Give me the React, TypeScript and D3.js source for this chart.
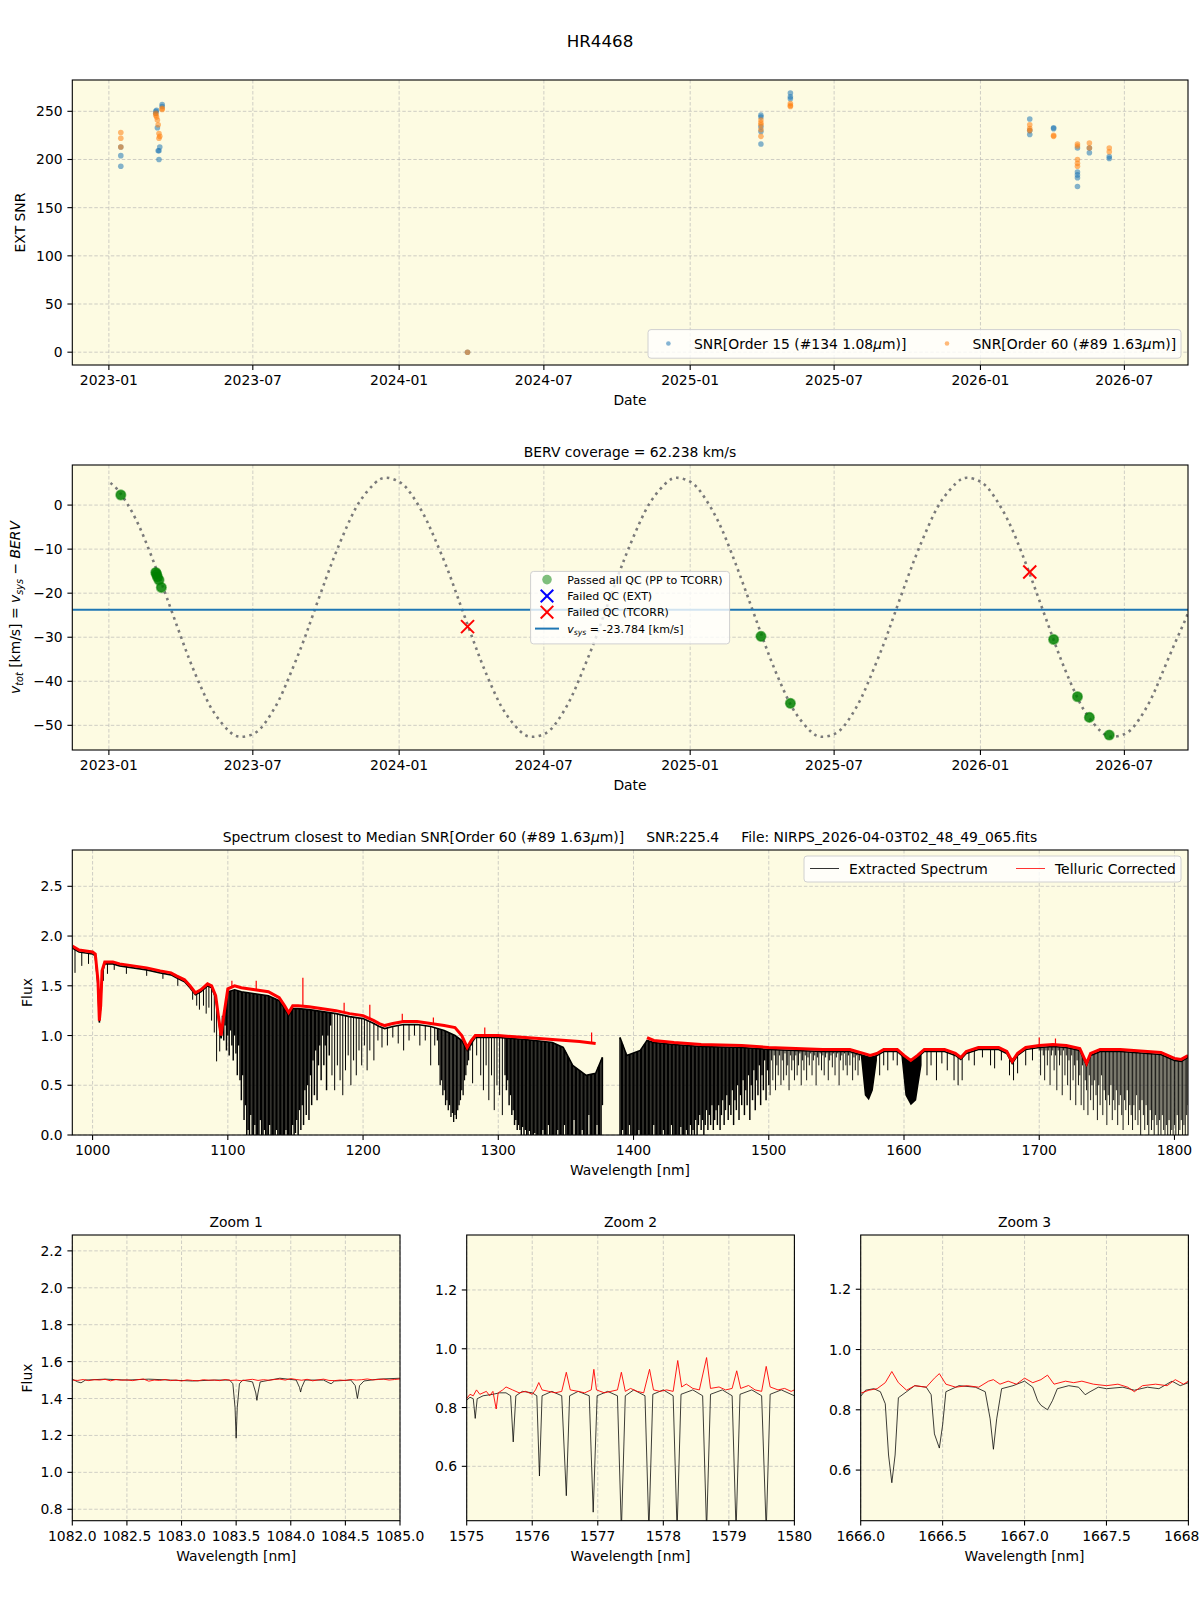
import React from 'react';
import * as d3 from 'd3';

const FONT = 'DejaVu Sans, sans-serif';
const BG = '#fdfbe2';
const C_BLUE = '#1f77b4';
const C_ORANGE = '#ff7f0e';

// ---- SNR per observation ----
const snrDates = [
  '2023-01-16', '2023-01-16', '2023-01-16',
  '2023-03-01', '2023-03-01', '2023-03-02', '2023-03-03', '2023-03-04', '2023-03-05', '2023-03-05', '2023-03-06', '2023-03-09', '2023-03-09',
  '2024-03-27',
  '2025-03-31', '2025-03-31', '2025-03-31', '2025-03-31', '2025-03-31',
  '2025-05-07', '2025-05-07', '2025-05-07',
  '2026-03-04', '2026-03-04', '2026-03-04',
  '2026-04-03', '2026-04-03',
  '2026-05-03', '2026-05-03', '2026-05-03', '2026-05-03', '2026-05-03',
  '2026-05-18', '2026-05-18',
  '2026-06-12', '2026-06-12',
];
const snr15 = [
  193, 204, 213,
  250, 248, 251, 233, 209, 209, 200, 213, 257, 255,
  0,
  246, 244, 234, 229, 216,
  269, 265, 263,
  242, 230, 226,
  232, 233,
  212, 187, 184, 181, 172,
  212, 207,
  201, 203,
];
const snr60 = [
  222, 228, 213,
  248, 246, 244, 241, 236, 227, 222, 224, 253, 252,
  0,
  241, 238, 236, 231, 224,
  258, 255, 256,
  236, 232, 230,
  225, 224,
  216, 214, 200, 196, 193,
  217, 212,
  212, 208,
];

// ---- BERV ----
const passDates = ['2023-01-16', '2023-03-01', '2023-03-02', '2023-03-03', '2023-03-05', '2023-03-08', '2025-03-31', '2025-05-07', '2026-04-03', '2026-05-03', '2026-05-18', '2026-06-12'];
const passVtot = [2.3, -15.3, -15.7, -16.3, -17.0, -18.7, -29.8, -45.0, -30.5, -43.5, -48.2, -52.2];
const failTcorrDates = ['2024-03-27', '2026-03-04'];
const failTcorrVtot = [-27.6, -15.2];
const vsys = -23.784;

const bervCurveDates = [
  '2023-01-03', '2023-01-15', '2023-02-01', '2023-02-15', '2023-03-01', '2023-03-15', '2023-04-01', '2023-04-15', '2023-05-01', '2023-05-15', '2023-06-01', '2023-06-15',
  '2023-07-01', '2023-07-15', '2023-08-01', '2023-08-15', '2023-09-01', '2023-09-15', '2023-10-01', '2023-10-15', '2023-11-01', '2023-11-15', '2023-12-01', '2023-12-15',
  '2024-01-01', '2024-01-15', '2024-02-01', '2024-02-15', '2024-03-01', '2024-03-15', '2024-04-01', '2024-04-15', '2024-05-01', '2024-05-15', '2024-06-01', '2024-06-15',
  '2024-07-01', '2024-07-15', '2024-08-01', '2024-08-15', '2024-09-01', '2024-09-15', '2024-10-01', '2024-10-15', '2024-11-01', '2024-11-15', '2024-12-01', '2024-12-15',
  '2025-01-01', '2025-01-15', '2025-02-01', '2025-02-15', '2025-03-01', '2025-03-15', '2025-04-01', '2025-04-15', '2025-05-01', '2025-05-15', '2025-06-01', '2025-06-15',
  '2025-07-01', '2025-07-15', '2025-08-01', '2025-08-15', '2025-09-01', '2025-09-15', '2025-10-01', '2025-10-15', '2025-11-01', '2025-11-15', '2025-12-01', '2025-12-15',
  '2026-01-01', '2026-01-15', '2026-02-01', '2026-02-15', '2026-03-01', '2026-03-15', '2026-04-01', '2026-04-15', '2026-05-01', '2026-05-15', '2026-06-01', '2026-06-15',
  '2026-07-01', '2026-07-15', '2026-08-01', '2026-08-15', '2026-09-01', '2026-09-15', '2026-09-19',
];
const bervCurveValues = [
  5.0, 2.8, -2.2, -7.7, -14.2, -21.1, -29.6, -36.3, -43.0, -47.6, -51.3, -52.6,
  -52.0, -49.8, -44.9, -39.3, -31.7, -24.7, -16.7, -10.1, -3.0, 1.5, 4.9, 6.2,
  5.3, 2.8, -2.2, -7.7, -14.2, -21.1, -29.6, -36.3, -43.0, -47.6, -51.3, -52.6,
  -52.0, -49.8, -44.9, -39.3, -31.7, -24.7, -16.7, -10.1, -3.0, 1.5, 4.9, 6.2,
  5.3, 2.8, -2.2, -7.7, -14.2, -21.1, -29.6, -36.3, -43.0, -47.6, -51.3, -52.6,
  -52.0, -49.8, -44.9, -39.3, -31.7, -24.7, -16.7, -10.1, -3.0, 1.5, 4.9, 6.2,
  5.3, 2.8, -2.2, -7.7, -14.2, -21.1, -29.6, -36.3, -43.0, -47.6, -51.3, -52.6,
  -52.0, -49.8, -44.9, -39.3, -32.0, -26.3, -24.5,
];

const dateTicks = ['2023-01-01', '2023-07-01', '2024-01-01', '2024-07-01', '2025-01-01', '2025-07-01', '2026-01-01', '2026-07-01'];

// ---- full spectrum ----
// extracted spectrum, upper envelope (two chunks, gap between)
const extContA = [
  [985, 1.88], [990, 1.84], [995, 1.83], [1000, 1.82], [1002, 1.8], [1004, 1.5], [1005, 1.13], [1006, 1.3], [1007, 1.62], [1009, 1.72],
  [1015, 1.72], [1020, 1.7], [1030, 1.68], [1040, 1.66], [1050, 1.63], [1058, 1.61], [1062, 1.58], [1068, 1.54], [1072, 1.48], [1076, 1.41],
  [1080, 1.44], [1085, 1.5], [1088, 1.48], [1091, 1.38], [1093, 1.18], [1095, 0.97], [1097, 1.18], [1100, 1.44], [1105, 1.46], [1110, 1.44],
  [1120, 1.42], [1130, 1.4], [1138, 1.35], [1142, 1.27], [1145, 1.2], [1148, 1.27], [1152, 1.27], [1160, 1.26], [1170, 1.24], [1180, 1.22],
  [1190, 1.19], [1200, 1.17], [1208, 1.12], [1212, 1.09], [1216, 1.07], [1222, 1.09], [1230, 1.11], [1240, 1.11], [1250, 1.09], [1260, 1.05],
  [1268, 1.0], [1273, 0.95], [1277, 0.85], [1280, 0.92], [1283, 0.98], [1290, 0.98], [1300, 0.98], [1320, 0.96], [1340, 0.93], [1348, 0.88],
  [1355, 0.7], [1365, 0.6], [1372, 0.62], [1377, 0.78],
];
const extContB = [
  [1390, 0.98], [1395, 0.8], [1405, 0.85], [1410, 0.95], [1415, 0.93], [1430, 0.91], [1450, 0.89], [1480, 0.88], [1500, 0.86], [1520, 0.85],
  [1540, 0.84], [1560, 0.84], [1570, 0.8], [1575, 0.78], [1580, 0.8], [1585, 0.84], [1595, 0.84], [1600, 0.78], [1605, 0.73], [1610, 0.78],
  [1615, 0.84], [1630, 0.84], [1638, 0.8], [1642, 0.76], [1646, 0.82], [1655, 0.86], [1670, 0.86], [1676, 0.82], [1680, 0.72], [1684, 0.8],
  [1690, 0.86], [1700, 0.88], [1710, 0.89], [1720, 0.88], [1730, 0.85], [1735, 0.7], [1738, 0.8], [1745, 0.84], [1760, 0.84], [1780, 0.82],
  [1790, 0.81], [1800, 0.75], [1805, 0.74], [1810, 0.78],
];
// broad CO2 band bottoms
const extBands = [
  [[1568, 0.8], [1571, 0.4], [1574, 0.35], [1577, 0.45], [1580, 0.75]],
  [[1598, 0.8], [1601, 0.4], [1605, 0.3], [1609, 0.35], [1613, 0.7]],
];
// telluric forests: line minima sampled every 1 nm from the start wavelength
const forestStart = [1096, 1255, 1305, 1390, 1500, 1700];
const forestDepths = [
  [1.2, 0.95, 1.1, 0.85, 1.0, 0.8, 1.05, 0.9, 0.75, 1.0, 0.82, 0.6, 0.9, 0.55, 0.35, 0.6, 0.15, 0.3, 0.0, 0.05,
    0.0, 0.2, 0.0, 0.0, 0.1, 0.0, 0.0, 0.0, 0.15, 0.0, 0.0, 0.05, 0.0, 0.0, 0.0, 0.1, 0.0, 0.0, 0.0, 0.0,
    0.05, 0.0, 0.0, 0.0, 0.0, 0.0, 0.0, 0.05, 0.0, 0.0, 0.0, 0.0, 0.1, 0.0, 0.02, 0.15, 0.0, 0.25, 0.05, 0.3,
    0.1, 0.45, 0.2, 0.5, 0.15, 0.6, 0.3, 0.75, 0.4, 0.85, 0.35, 0.7, 0.9, 0.55, 1.0, 0.7, 0.9, 0.45, 1.0, 0.8, 1.1],
  [0.95, 0.7, 0.5, 0.55, 0.4, 0.45, 0.3, 0.35, 0.25, 0.3, 0.18, 0.22, 0.13, 0.2, 0.16, 0.25, 0.3, 0.35, 0.45, 0.4,
    0.55, 0.6, 0.7, 0.75, 0.85, 0.9],
  [0.6, 0.45, 0.55, 0.3, 0.4, 0.2, 0.25, 0.1, 0.15, 0.05, 0.1, 0.05, 0.0, 0.08, 0.0, 0.05, 0.0, 0.0, 0.04, 0.0,
    0.0, 0.0, 0.02, 0.0, 0.0, 0.0, 0.0, 0.0, 0.05, 0.0, 0.0, 0.0, 0.1, 0.0, 0.0, 0.0, 0.0, 0.0, 0.0, 0.05,
    0.0, 0.0, 0.0, 0.0, 0.1, 0.0, 0.0, 0.0, 0.0, 0.0, 0.0, 0.15, 0.0, 0.0, 0.0, 0.0, 0.0, 0.05, 0.0, 0.0,
    0.0, 0.0, 0.2, 0.0, 0.0, 0.0, 0.0, 0.0, 0.1, 0.0, 0.0, 0.0, 0.3],
  [0.0, 0.0, 0.05, 0.0, 0.0, 0.0, 0.0, 0.1, 0.0, 0.0, 0.0, 0.0, 0.0, 0.0, 0.05, 0.0, 0.0, 0.0, 0.0, 0.0,
    0.0, 0.0, 0.0, 0.0, 0.0, 0.1, 0.0, 0.0, 0.0, 0.0, 0.0, 0.0, 0.05, 0.0, 0.0, 0.0, 0.0, 0.0, 0.1, 0.0,
    0.0, 0.0, 0.0, 0.0, 0.0, 0.08, 0.0, 0.0, 0.0, 0.05, 0.0, 0.0, 0.1, 0.0, 0.05, 0.0, 0.15, 0.0, 0.1, 0.2,
    0.05, 0.15, 0.0, 0.1, 0.25, 0.05, 0.2, 0.1, 0.3, 0.05, 0.15, 0.25, 0.1, 0.3, 0.05, 0.2, 0.35, 0.1, 0.25, 0.4,
    0.15, 0.3, 0.2, 0.45, 0.1, 0.35, 0.25, 0.5, 0.15, 0.4, 0.3, 0.55, 0.2, 0.45, 0.3, 0.6, 0.15, 0.5, 0.35, 0.65,
    0.25, 0.55, 0.4, 0.7, 0.3, 0.6, 0.45, 0.75, 0.35, 0.65, 0.5],
  [0.65, 0.4, 0.75, 0.55, 0.8, 0.45, 0.7, 0.6, 0.8, 0.5, 0.75, 0.55, 0.82, 0.6, 0.7, 0.45, 0.8, 0.65, 0.75, 0.55,
    0.8, 0.6, 0.7, 0.82, 0.5, 0.75, 0.65, 0.8, 0.55, 0.78, 0.7, 0.82, 0.6, 0.75, 0.8, 0.5, 0.78, 0.7, 0.82, 0.65,
    0.8, 0.6, 0.78, 0.82, 0.55, 0.75, 0.8, 0.68, 0.82, 0.6, 0.78, 0.82, 0.5, 0.75, 0.8, 0.65, 0.82, 0.7, 0.6, 0.8,
    0.7, 0.82, 0.55, 0.78, 0.65, 0.8, 0.6, 0.75],
  [0.85, 0.6, 0.85, 0.8, 0.55, 0.85, 0.7, 0.85, 0.5, 0.8, 0.85, 0.65, 0.8, 0.45, 0.85, 0.7, 0.8, 0.4, 0.85, 0.6,
    0.8, 0.5, 0.75, 0.35, 0.8, 0.55, 0.7, 0.3, 0.75, 0.5, 0.6, 0.3, 0.7, 0.25, 0.55, 0.45, 0.2, 0.6, 0.35, 0.5,
    0.25, 0.55, 0.4, 0.15, 0.5, 0.3, 0.6, 0.2, 0.45, 0.35, 0.1, 0.4, 0.3, 0.5, 0.15, 0.35, 0.25, 0.45, 0.1, 0.3,
    0.4, 0.2, 0.05, 0.35, 0.25, 0.45, 0.1, 0.3, 0.2, 0.05, 0.3, 0.15, 0.4, 0.1, 0.25, 0.0, 0.35, 0.2, 0.05, 0.3,
    0.1, 0.0, 0.25, 0.05, 0.15, 0.0, 0.2, 0.1, 0.0, 0.15, 0.0, 0.2, 0.05, 0.0, 0.1, 0.0, 0.15, 0.0, 0.05, 0.0,
    0.1, 0.0, 0.2, 0.0, 0.05, 0.15, 0.0, 0.1, 0.0, 0.2, 0.3],
];
const forestStroke = [1.45, 1.3, 1.45, 1.45, 0.9, 0.9];
// isolated absorption lines: [nm, minimum flux]
const extLines = [
  [987, 1.63], [992, 1.7], [997, 1.72], [1003, 1.6], [1008, 1.55], [1011, 1.62], [1016, 1.66], [1025, 1.62], [1040, 1.6], [1052, 1.57], [1063, 1.5],
  [1074, 1.36], [1077, 1.3], [1079, 1.26], [1082, 1.3], [1084, 1.22], [1086, 1.28], [1088, 1.15], [1090, 1.03], [1091.7, 0.74], [1094, 0.84],
  [1177, 0.6], [1179, 0.45], [1181, 0.7], [1183, 0.55], [1185, 0.4], [1187, 0.65], [1189, 0.8], [1191, 0.5], [1193, 0.75], [1195, 0.6], [1197, 0.85],
  [1199, 0.7], [1201, 0.9], [1203, 0.65], [1205, 0.85], [1208, 0.75], [1211, 0.95], [1214, 0.88], [1218, 0.9], [1222, 0.98], [1226, 0.92],
  [1230, 0.85], [1234, 0.95], [1238, 1.0], [1242, 0.9], [1246, 0.95], [1250, 0.7], [1253, 0.9],
  [1281, 0.52], [1284, 0.8], [1287, 0.6], [1289, 0.45], [1291, 0.7], [1293, 0.35], [1295, 0.6], [1297, 0.25], [1299, 0.5], [1301, 0.4], [1303, 0.2],
  [1582, 0.6], [1585, 0.7], [1588, 0.65], [1592, 0.75], [1595, 0.7],
  [1617, 0.6], [1620, 0.7], [1624, 0.55], [1628, 0.72], [1632, 0.65], [1637, 0.55], [1640, 0.5], [1643, 0.55], [1648, 0.75], [1652, 0.7], [1658, 0.78],
  [1664, 0.7], [1667, 0.67], [1672, 0.75], [1678, 0.6], [1681, 0.55], [1684, 0.62], [1690, 0.7], [1695, 0.75],
];
// telluric corrected spectrum (two chunks)
const tcorrA = [
  [985, 1.9], [990, 1.86], [995, 1.85], [1000, 1.84], [1002, 1.82], [1004, 1.55], [1005, 1.15], [1006, 1.3], [1007, 1.65], [1009, 1.74],
  [1015, 1.74], [1020, 1.72], [1030, 1.7], [1040, 1.68], [1050, 1.65], [1058, 1.63], [1062, 1.6], [1068, 1.56], [1072, 1.5], [1076, 1.43],
  [1080, 1.46], [1085, 1.52], [1088, 1.5], [1091, 1.4], [1093, 1.2], [1095, 1.0], [1097, 1.2], [1100, 1.47], [1105, 1.5], [1110, 1.48],
  [1120, 1.46], [1130, 1.44], [1138, 1.38], [1142, 1.3], [1145, 1.23], [1148, 1.3], [1152, 1.3], [1160, 1.29], [1170, 1.27], [1180, 1.25],
  [1190, 1.22], [1200, 1.2], [1208, 1.15], [1212, 1.12], [1216, 1.1], [1222, 1.12], [1230, 1.14], [1240, 1.14], [1250, 1.12], [1260, 1.1],
  [1268, 1.08], [1273, 1.0], [1277, 0.88], [1280, 0.95], [1283, 1.0], [1290, 1.0], [1300, 1.0], [1320, 0.98], [1340, 0.96], [1360, 0.94], [1372, 0.92],
];
const tcorrB = [
  [1410, 0.98], [1415, 0.95], [1430, 0.93], [1450, 0.91], [1480, 0.9], [1500, 0.88], [1520, 0.87], [1540, 0.86], [1560, 0.86], [1570, 0.82],
  [1575, 0.8], [1580, 0.82], [1585, 0.86], [1595, 0.86], [1600, 0.8], [1605, 0.75], [1610, 0.8], [1615, 0.86], [1630, 0.86], [1638, 0.82],
  [1642, 0.78], [1646, 0.84], [1655, 0.88], [1670, 0.88], [1676, 0.84], [1680, 0.74], [1684, 0.82], [1690, 0.88], [1700, 0.9], [1710, 0.91],
  [1720, 0.9], [1730, 0.87], [1735, 0.72], [1738, 0.82], [1745, 0.86], [1760, 0.86], [1780, 0.84], [1790, 0.83], [1800, 0.77], [1805, 0.76], [1810, 0.8],
];
// upward residual spikes in the corrected spectrum: [nm, peak flux]
const tcorrSpikes = [[1103, 1.55], [1121, 1.55], [1155.5, 1.58], [1186, 1.33], [1205, 1.31], [1229, 1.22], [1252, 1.18], [1290, 1.08], [1369, 1.03], [1700, 0.98], [1712, 0.97]];

// ---- zoom windows ----
const z1Ext = [
  [1082.0, 1.505], [1082.05, 1.49], [1082.08, 1.485], [1082.12, 1.5], [1082.3, 1.505], [1082.5, 1.5], [1082.7, 1.505], [1082.9, 1.5], [1083.1, 1.495],
  [1083.3, 1.5], [1083.44, 1.5], [1083.47, 1.48], [1083.49, 1.35], [1083.5, 1.185], [1083.51, 1.35], [1083.53, 1.48], [1083.56, 1.5], [1083.65, 1.49],
  [1083.68, 1.43], [1083.69, 1.39], [1083.7, 1.43], [1083.72, 1.49], [1083.9, 1.51], [1084.05, 1.5], [1084.08, 1.46], [1084.09, 1.435], [1084.1, 1.46],
  [1084.13, 1.5], [1084.3, 1.5], [1084.35, 1.485], [1084.37, 1.48], [1084.4, 1.495], [1084.55, 1.5], [1084.59, 1.47], [1084.61, 1.4], [1084.63, 1.47],
  [1084.67, 1.495], [1084.8, 1.505], [1085.0, 1.51],
];
const z1Tcorr = [
  [1082.0, 1.5], [1082.05, 1.498], [1082.1, 1.503], [1082.15, 1.497], [1082.2, 1.502], [1082.25, 1.5], [1082.3, 1.504], [1082.35, 1.496], [1082.4, 1.503],
  [1082.45, 1.499], [1082.5, 1.501], [1082.55, 1.497], [1082.6, 1.502], [1082.65, 1.506], [1082.7, 1.494], [1082.75, 1.5], [1082.8, 1.498], [1082.85, 1.503],
  [1082.9, 1.497], [1082.95, 1.5], [1083.0, 1.495], [1083.05, 1.501], [1083.1, 1.498], [1083.15, 1.496], [1083.2, 1.502], [1083.25, 1.499], [1083.3, 1.5],
  [1083.35, 1.497], [1083.4, 1.503], [1083.45, 1.498], [1083.5, 1.5], [1083.55, 1.496], [1083.6, 1.501], [1083.65, 1.504], [1083.7, 1.498], [1083.75, 1.502],
  [1083.8, 1.499], [1083.85, 1.503], [1083.9, 1.505], [1083.95, 1.5], [1084.0, 1.508], [1084.05, 1.503], [1084.1, 1.499], [1084.15, 1.504], [1084.2, 1.496],
  [1084.25, 1.501], [1084.3, 1.505], [1084.35, 1.498], [1084.4, 1.497], [1084.45, 1.5], [1084.5, 1.498], [1084.55, 1.503], [1084.6, 1.5], [1084.65, 1.502],
  [1084.7, 1.506], [1084.75, 1.501], [1084.8, 1.503], [1084.85, 1.505], [1084.9, 1.5], [1084.95, 1.503], [1085.0, 1.506],
];
const z2Ext = [
  [1575.0, 0.825], [1575.05, 0.835], [1575.1, 0.83], [1575.13, 0.763], [1575.16, 0.83], [1575.25, 0.84], [1575.4, 0.845], [1575.5, 0.85], [1575.6, 0.85],
  [1575.67, 0.84], [1575.71, 0.683], [1575.75, 0.84], [1575.85, 0.855], [1576.0, 0.85], [1576.07, 0.84], [1576.11, 0.567], [1576.15, 0.84], [1576.3, 0.855],
  [1576.45, 0.84], [1576.52, 0.5], [1576.57, 0.84], [1576.7, 0.855], [1576.87, 0.84], [1576.93, 0.444], [1576.99, 0.84], [1577.15, 0.855], [1577.3, 0.84],
  [1577.36, 0.38], [1577.42, 0.84], [1577.55, 0.86], [1577.72, 0.84], [1577.78, 0.38], [1577.84, 0.845], [1578.0, 0.86], [1578.15, 0.84], [1578.21, 0.38],
  [1578.27, 0.845], [1578.45, 0.86], [1578.6, 0.84], [1578.66, 0.38], [1578.72, 0.845], [1578.9, 0.86], [1579.05, 0.84], [1579.11, 0.38], [1579.17, 0.845],
  [1579.35, 0.86], [1579.5, 0.84], [1579.57, 0.38], [1579.63, 0.845], [1579.8, 0.86], [1580.0, 0.84],
];
const z2Tcorr = [
  [1575.0, 0.83], [1575.05, 0.845], [1575.1, 0.84], [1575.15, 0.86], [1575.2, 0.845], [1575.3, 0.855], [1575.35, 0.84], [1575.4, 0.855], [1575.45, 0.795],
  [1575.48, 0.85], [1575.55, 0.86], [1575.6, 0.87], [1575.7, 0.86], [1575.8, 0.85], [1575.9, 0.855], [1576.0, 0.845], [1576.05, 0.86], [1576.1, 0.885],
  [1576.15, 0.86], [1576.25, 0.855], [1576.35, 0.85], [1576.45, 0.855], [1576.52, 0.92], [1576.58, 0.86], [1576.7, 0.855], [1576.8, 0.85], [1576.9, 0.86],
  [1576.94, 0.93], [1576.98, 0.86], [1577.1, 0.85], [1577.2, 0.855], [1577.3, 0.86], [1577.36, 0.92], [1577.42, 0.855], [1577.5, 0.865], [1577.6, 0.855],
  [1577.7, 0.85], [1577.79, 0.93], [1577.85, 0.86], [1577.95, 0.855], [1578.05, 0.86], [1578.15, 0.855], [1578.22, 0.96], [1578.28, 0.87], [1578.35, 0.88],
  [1578.45, 0.865], [1578.55, 0.86], [1578.66, 0.97], [1578.72, 0.865], [1578.85, 0.87], [1578.95, 0.86], [1579.05, 0.865], [1579.12, 0.925], [1579.18, 0.865],
  [1579.3, 0.875], [1579.4, 0.86], [1579.5, 0.855], [1579.57, 0.94], [1579.63, 0.87], [1579.75, 0.86], [1579.85, 0.865], [1579.95, 0.855], [1580.0, 0.86],
];
const z3Ext = [
  [1666.0, 0.845], [1666.03, 0.865], [1666.08, 0.87], [1666.12, 0.86], [1666.15, 0.82], [1666.17, 0.65], [1666.19, 0.558], [1666.21, 0.65], [1666.23, 0.84],
  [1666.28, 0.86], [1666.33, 0.88], [1666.4, 0.875], [1666.43, 0.85], [1666.45, 0.72], [1666.48, 0.673], [1666.5, 0.75], [1666.52, 0.86], [1666.6, 0.88],
  [1666.7, 0.875], [1666.76, 0.86], [1666.79, 0.77], [1666.81, 0.669], [1666.83, 0.77], [1666.86, 0.87], [1666.93, 0.88], [1667.0, 0.895], [1667.05, 0.875],
  [1667.08, 0.83], [1667.1, 0.815], [1667.14, 0.8], [1667.17, 0.83], [1667.2, 0.87], [1667.27, 0.88], [1667.33, 0.875], [1667.37, 0.85], [1667.4, 0.86],
  [1667.45, 0.875], [1667.5, 0.87], [1667.6, 0.875], [1667.67, 0.865], [1667.75, 0.875], [1667.82, 0.87], [1667.9, 0.895], [1667.95, 0.88], [1668.0, 0.89],
];
const z3Tcorr = [
  [1666.0, 0.855], [1666.05, 0.865], [1666.1, 0.87], [1666.15, 0.89], [1666.19, 0.927], [1666.23, 0.89], [1666.28, 0.865], [1666.33, 0.88], [1666.4, 0.875],
  [1666.45, 0.905], [1666.48, 0.92], [1666.52, 0.885], [1666.58, 0.875], [1666.65, 0.88], [1666.72, 0.875], [1666.78, 0.895], [1666.81, 0.9], [1666.85, 0.885],
  [1666.9, 0.895], [1666.95, 0.885], [1667.0, 0.905], [1667.05, 0.89], [1667.1, 0.9], [1667.14, 0.915], [1667.18, 0.885], [1667.25, 0.895], [1667.3, 0.89],
  [1667.35, 0.895], [1667.42, 0.885], [1667.5, 0.88], [1667.57, 0.885], [1667.63, 0.875], [1667.67, 0.86], [1667.72, 0.88], [1667.8, 0.885], [1667.87, 0.88],
  [1667.92, 0.9], [1667.97, 0.885], [1668.0, 0.895],
];

const parse = d3.utcParse('%Y-%m-%d');

function Axes({ id, x, y, xTicks, yTicks, xFmt, yFmt, children }: any) {
  const [x0, x1] = x.range();
  const [yb, yt] = y.range();
  return (
    <g>
      <rect x={x0} y={yt} width={x1 - x0} height={yb - yt} fill={BG} />
      <defs>
        <clipPath id={id}>
          <rect x={x0} y={yt} width={x1 - x0} height={yb - yt} />
        </clipPath>
      </defs>
      <g stroke="#b0b0b0" strokeOpacity={0.75} strokeWidth={0.8} strokeDasharray="3.5,2">
        {xTicks.map((t: any, i: number) => <line key={'gx' + i} x1={x(t)} x2={x(t)} y1={yt} y2={yb} />)}
        {yTicks.map((t: any, i: number) => <line key={'gy' + i} x1={x0} x2={x1} y1={y(t)} y2={y(t)} />)}
      </g>
      <g clipPath={`url(#${id})`}>{children}</g>
      <rect x={x0} y={yt} width={x1 - x0} height={yb - yt} fill="none" stroke="#000" strokeWidth={1.1} />
      <g stroke="#000" strokeWidth={1.1}>
        {xTicks.map((t: any, i: number) => <line key={'tx' + i} x1={x(t)} x2={x(t)} y1={yb} y2={yb + 4.9} />)}
        {yTicks.map((t: any, i: number) => <line key={'ty' + i} x1={x0 - 4.9} x2={x0} y1={y(t)} y2={y(t)} />)}
      </g>
      <g fontSize={13.9} fill="#000">
        {xTicks.map((t: any, i: number) => (
          <text key={'lx' + i} x={x(t)} y={yb + 20.3} textAnchor="middle">{xFmt(t)}</text>
        ))}
        {yTicks.map((t: any, i: number) => (
          <text key={'ly' + i} x={x0 - 9.7} y={y(t)} dy="0.36em" textAnchor="end">{yFmt(t)}</text>
        ))}
      </g>
    </g>
  );
}

const Cross = ({ cx, cy, r, color }: any) => (
  <g stroke={color} strokeWidth={2}>
    <line x1={cx - r} y1={cy - r} x2={cx + r} y2={cy + r} />
    <line x1={cx - r} y1={cy + r} x2={cx + r} y2={cy - r} />
  </g>
);

function ZoomPanel({ id, title, xd, yd, x0, xTicks, yTicks, xFmt, ext, tcorr, ylabel }: any) {
  const x = d3.scaleLinear().domain(xd).range([x0, x0 + 327.7]);
  const y = d3.scaleLinear().domain(yd).range([1520.7, 1235]);
  const line = d3.line<number[]>().x(d => x(d[0])).y(d => y(d[1]));
  const cx = x0 + 327.7 / 2;
  return (
    <g>
      <Axes id={id} x={x} y={y} xTicks={xTicks} yTicks={yTicks} xFmt={xFmt} yFmt={d3.format('.1f')}>
        <path d={line(ext) || ''} fill="none" stroke="#000" strokeWidth={0.9} strokeOpacity={0.85} />
        <path d={line(tcorr) || ''} fill="none" stroke="red" strokeWidth={0.9} />
      </Axes>
      <text x={cx} y={1227} textAnchor="middle" fontSize={13.9}>{title}</text>
      <text x={cx} y={1561} textAnchor="middle" fontSize={13.9}>Wavelength [nm]</text>
      {ylabel && (
        <text transform="translate(32,1378) rotate(-90)" textAnchor="middle" fontSize={13.9}>Flux</text>
      )}
    </g>
  );
}

export default function App() {
  // shared time axis
  const xT = d3.scaleUtc().domain([parse('2022-11-16'), parse('2026-09-19')]).range([72.3, 1188]);
  const tTicks = dateTicks.map(d => parse(d));
  const tFmt = d3.utcFormat('%Y-%m');

  // panel 1
  const ySnr = d3.scaleLinear().domain([-13.3, 282.5]).range([365, 80]);

  // panel 2
  const yB = d3.scaleLinear().domain([-55.6, 9.1]).range([750, 465]);
  const bervLine = d3.line<number>()
    .x((_, i) => xT(parse(bervCurveDates[i])))
    .y(d => yB(d))
    .curve(d3.curveNatural);

  // panel 3
  const xS = d3.scaleLinear().domain([985, 1810]).range([72.3, 1188]);
  const yS = d3.scaleLinear().domain([0, 2.865]).range([1135, 850]);
  const extAll = extContA.concat(extContB);
  const cont = d3.scaleLinear().domain(extAll.map(d => d[0])).range(extAll.map(d => d[1]));
  const tcAll = tcorrA.concat(tcorrB);
  const tcCont = d3.scaleLinear().domain(tcAll.map(d => d[0])).range(tcAll.map(d => d[1]));
  const specLine = d3.line<number[]>().x(d => xS(d[0])).y(d => yS(d[1]));
  const bandArea = d3.area<number[]>().x(d => xS(d[0])).y0(d => yS(d[1])).y1(d => yS(cont(d[0])));

  return (
    <svg width={1200} height={1600} style={{ position: 'absolute', left: 0, top: 0, background: '#fff' }} fontFamily={FONT}>
      <text x={600} y={47} textAnchor="middle" fontSize={16.7}>HR4468</text>

      {/* ---- SNR panel ---- */}
      <Axes id="c1" x={xT} y={ySnr} xTicks={tTicks} yTicks={[0, 50, 100, 150, 200, 250]} xFmt={tFmt} yFmt={d3.format('d')}>
        {snrDates.map((d, i) => (
          <circle key={'b' + i} cx={xT(parse(d))} cy={ySnr(snr15[i])} r={2.8} fill={C_BLUE} fillOpacity={0.55} />
        ))}
        {snrDates.map((d, i) => (
          <circle key={'o' + i} cx={xT(parse(d))} cy={ySnr(snr60[i])} r={2.8} fill={C_ORANGE} fillOpacity={0.55} />
        ))}
      </Axes>
      <text transform="translate(25,222.5) rotate(-90)" textAnchor="middle" fontSize={13.9}>EXT SNR</text>
      <text x={630} y={405} textAnchor="middle" fontSize={13.9}>Date</text>
      <g>
        <rect x={648} y={329.6} width={533} height={28.6} rx={3} fill="#fff" fillOpacity={0.8} stroke="#d0d0d0" />
        <circle cx={668.4} cy={343.5} r={2.3} fill={C_BLUE} fillOpacity={0.55} />
        <text x={694} y={343.5} dy="0.36em" fontSize={13.9}>SNR[Order 15 (#134 1.08<tspan fontStyle="italic">μ</tspan>m)]</text>
        <circle cx={947} cy={343.5} r={2.3} fill={C_ORANGE} fillOpacity={0.55} />
        <text x={972.5} y={343.5} dy="0.36em" fontSize={13.9}>SNR[Order 60 (#89 1.63<tspan fontStyle="italic">μ</tspan>m)]</text>
      </g>

      {/* ---- BERV panel ---- */}
      <Axes id="c2" x={xT} y={yB} xTicks={tTicks} yTicks={[0, -10, -20, -30, -40, -50]} xFmt={tFmt} yFmt={d3.format('d')}>
        <path d={bervLine(bervCurveValues) || ''} fill="none" stroke="#7a7a7a" strokeWidth={2.6} strokeDasharray="2.6,4.2" />
        <line x1={72.3} x2={1188} y1={yB(vsys)} y2={yB(vsys)} stroke={C_BLUE} strokeWidth={2} />
        {passDates.map((d, i) => (
          <circle key={'p' + i} cx={xT(parse(d))} cy={yB(passVtot[i])} r={4.8} fill="green" fillOpacity={0.85} stroke="green" strokeOpacity={0.5} strokeWidth={1.6} />
        ))}
        {failTcorrDates.map((d, i) => (
          <Cross key={'f' + i} cx={xT(parse(d))} cy={yB(failTcorrVtot[i])} r={6.5} color="red" />
        ))}
      </Axes>
      <text x={630} y={456.5} textAnchor="middle" fontSize={13.9}>BERV coverage = 62.238 km/s</text>
      <text x={630} y={790} textAnchor="middle" fontSize={13.9}>Date</text>
      <text transform="translate(20,607.5) rotate(-90)" textAnchor="middle" fontSize={13.9}>
        <tspan fontStyle="italic">v</tspan>
        <tspan fontStyle="italic" fontSize={9.7} dy={3}>tot</tspan>
        <tspan dy={-3}> [km/s] = </tspan>
        <tspan fontStyle="italic">v</tspan>
        <tspan fontStyle="italic" fontSize={9.7} dy={3}>sys</tspan>
        <tspan dy={-3}> − </tspan>
        <tspan fontStyle="italic">BERV</tspan>
      </text>
      <g fontSize={11}>
        <rect x={530.6} y={571.4} width={199} height={72.5} rx={3} fill="#fff" fillOpacity={0.8} stroke="#d0d0d0" />
        <circle cx={547} cy={579.6} r={4.8} fill="green" fillOpacity={0.5} />
        <text x={567.3} y={579.6} dy="0.36em">Passed all QC (PP to TCORR)</text>
        <Cross cx={547} cy={596} r={6.3} color="blue" />
        <text x={567.3} y={596} dy="0.36em">Failed QC (EXT)</text>
        <Cross cx={547} cy={612.2} r={6.3} color="red" />
        <text x={567.3} y={612.2} dy="0.36em">Failed QC (TCORR)</text>
        <line x1={535} x2={559} y1={628.6} y2={628.6} stroke={C_BLUE} strokeWidth={2} />
        <text x={567.3} y={628.6} dy="0.36em">
          <tspan fontStyle="italic">v</tspan>
          <tspan fontStyle="italic" fontSize={7.7} dy={2.5}>sys</tspan>
          <tspan dy={-2.5}> = -23.784 [km/s]</tspan>
        </text>
      </g>

      {/* ---- full spectrum ---- */}
      <Axes id="c3" x={xS} y={yS} xTicks={d3.range(1000, 1801, 100)} yTicks={[0, 0.5, 1, 1.5, 2, 2.5]} xFmt={d3.format('d')} yFmt={d3.format('.1f')}>
        {extBands.map((f, i) => (
          <path key={'fa' + i} d={bandArea(f) || ''} fill="#000" />
        ))}
        {forestDepths.map((depths, k) => depths.map((v, i) => {
          const nm = forestStart[k] + i;
          return <line key={'fl' + k + '_' + i} x1={xS(nm)} x2={xS(nm)} y1={yS(cont(nm))} y2={yS(v)} stroke="#000" strokeWidth={forestStroke[k]} />;
        }))}
        {extLines.map((l, i) => (
          <line key={'el' + i} x1={xS(l[0])} x2={xS(l[0])} y1={yS(cont(l[0]))} y2={yS(l[1])} stroke="#000" strokeWidth={1} />
        ))}
        <path d={specLine(extContA) || ''} fill="none" stroke="#000" strokeWidth={1.6} />
        <path d={specLine(extContB) || ''} fill="none" stroke="#000" strokeWidth={1.6} />
        {tcorrSpikes.map((s, i) => (
          <line key={'ts' + i} x1={xS(s[0])} x2={xS(s[0])} y1={yS(tcCont(s[0]))} y2={yS(s[1])} stroke="red" strokeWidth={1.2} />
        ))}
        <path d={specLine(tcorrA) || ''} fill="none" stroke="red" strokeWidth={3} />
        <path d={specLine(tcorrB) || ''} fill="none" stroke="red" strokeWidth={3} />
      </Axes>
      <text x={630} y={841.5} textAnchor="middle" fontSize={13.9} xmlSpace="preserve">
        {'Spectrum closest to Median SNR[Order 60 (#89 1.63'}
        <tspan fontStyle="italic">μ</tspan>
        {'m)]     SNR:225.4     File: NIRPS_2026-04-03T02_48_49_065.fits'}
      </text>
      <text transform="translate(32,992.5) rotate(-90)" textAnchor="middle" fontSize={13.9}>Flux</text>
      <text x={630} y={1175} textAnchor="middle" fontSize={13.9}>Wavelength [nm]</text>
      <g fontSize={13.9}>
        <rect x={804} y={856} width={377} height={26} rx={3} fill="#fff" fillOpacity={0.8} stroke="#d0d0d0" />
        <line x1={810} x2={839} y1={868.5} y2={868.5} stroke="#000" strokeWidth={1} strokeOpacity={0.8} />
        <text x={849} y={868.5} dy="0.36em">Extracted Spectrum</text>
        <line x1={1016} x2={1045} y1={868.5} y2={868.5} stroke="red" strokeWidth={1} strokeOpacity={0.8} />
        <text x={1055} y={868.5} dy="0.36em">Telluric Corrected</text>
      </g>

      {/* ---- zooms ---- */}
      <ZoomPanel id="z1" title="Zoom 1" xd={[1082, 1085]} yd={[0.738, 2.286]} x0={72.3}
        xTicks={[1082, 1082.5, 1083, 1083.5, 1084, 1084.5, 1085]} yTicks={[0.8, 1.0, 1.2, 1.4, 1.6, 1.8, 2.0, 2.2]}
        xFmt={d3.format('.1f')} ext={z1Ext} tcorr={z1Tcorr} ylabel />
      <ZoomPanel id="z2" title="Zoom 2" xd={[1575, 1580]} yd={[0.415, 1.387]} x0={466.7}
        xTicks={[1575, 1576, 1577, 1578, 1579, 1580]} yTicks={[0.6, 0.8, 1.0, 1.2]}
        xFmt={d3.format('d')} ext={z2Ext} tcorr={z2Tcorr} />
      <ZoomPanel id="z3" title="Zoom 3" xd={[1666, 1668]} yd={[0.432, 1.38]} x0={860.7}
        xTicks={[1666, 1666.5, 1667, 1667.5, 1668]} yTicks={[0.6, 0.8, 1.0, 1.2]}
        xFmt={d3.format('.1f')} ext={z3Ext} tcorr={z3Tcorr} />
    </svg>
  );
}
